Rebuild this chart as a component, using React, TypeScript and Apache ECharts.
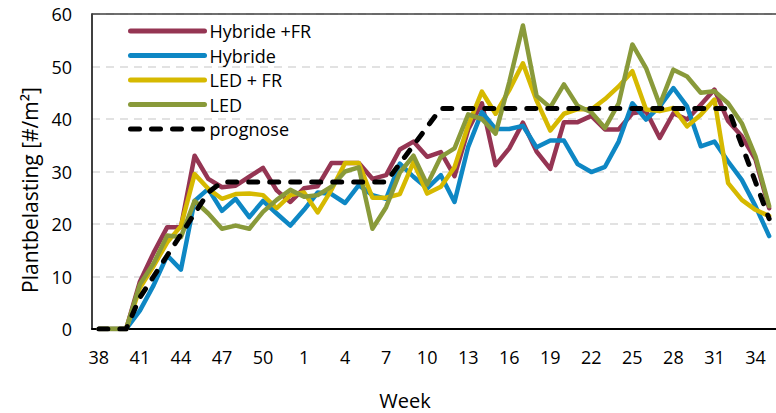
import React, { useEffect, useRef } from 'react';
import * as echarts from 'echarts';

const weeks = ['38','39','40','41','42','43','44','45','46','47','48','49','50','51','52',
  '1','2','3','4','5','6','7','8','9','10','11','12','13','14','15','16','17','18','19','20',
  '21','22','23','24','25','26','27','28','29','30','31','32','33','34','35'];

const hybrideFR = [0,0,0,9,14.5,19.4,19.4,33,28.6,27,27.3,29,30.7,26.4,24.2,26.8,27.2,31.6,31.6,31.6,
  28.6,29.3,34.2,35.7,32.8,33.7,29.1,38,43,31.2,34.4,39.3,33.8,30.5,39.4,39.4,40.6,38,38,41.1,
  41.5,36.4,41.1,39.9,42.7,45.6,39.6,36.7,32.3,23];

const hybride = [0,0,0,3.5,8.3,14,11.3,24.4,26.7,22.5,24.8,21.3,24.4,22,19.7,22.7,26,25.7,24,27.4,
  25.5,24.8,31.5,29,26.8,29.3,24.2,34.7,41.3,38.1,38.1,38.7,34.6,35.9,35.9,31.4,29.9,30.9,35.7,43,
  39.9,42.4,45.9,42.4,34.8,35.7,31.9,28.4,23.4,17.7];

const ledFR = [0,0,0,7.8,12,16.5,19.6,29.5,26.7,24.8,25.7,25.8,25.5,23,25.5,26,22.2,26.5,31.6,31.6,
  25,25,25.7,31.8,25.8,27.1,30.8,38.8,45.2,41,45.5,50.6,43.5,37.8,41,41.9,41.8,43.8,46.2,49.1,
  41.8,41.5,42.1,38.6,40.8,43.7,27.8,24.6,22.7,21.5];

const led = [0,0,0,8.5,12.5,17.8,17.5,24.4,22,19.1,19.7,19.1,22.3,24.6,26.5,25.2,25.5,27.1,30,30.8,
  19.1,23.2,29.8,33,27.5,32.8,34.4,40.9,40,37.2,47,57.8,44.4,42.2,46.6,42.5,41.3,38.3,43,54.2,
  49.7,42.7,49.4,48.1,45,45.3,43,39.2,32.9,23.4];

const prognose = [0,0,0,6,10,14,18,22,26,28,28,28,28,28,28,28,28,28,28,28,
  28,28,31.5,35,38.5,42,42,42,42,42,42,42,42,42,42,42,42,42,42,42,
  42,42,42,42,42,42,42,35,28,21];

const yTicks = [0, 10, 20, 30, 40, 50, 60];

const seriesNames = ['Hybride +FR', 'Hybride', 'LED + FR', 'LED', 'prognose'];

export default function App() {
  const ref = useRef<HTMLDivElement>(null);
  useEffect(() => {
    const chart = echarts.init(ref.current!, null, { renderer: 'svg' });
    const font = '"Open Sans", sans-serif';
    const mk = (name: string, data: number[], color: string, width: number, type: any = 'solid') => ({
      name,
      type: 'line',
      data,
      symbol: 'none',
      showSymbol: false,
      itemStyle: { color },
      lineStyle: { color, width, type, cap: 'round', join: 'round' },
      emphasis: { disabled: true },
    });
    chart.setOption({
      animation: false,
      grid: { left: 92, top: 14, width: 686, height: 315, containLabel: false },
      legend: {
        data: seriesNames,
        orient: 'vertical',
        left: 128,
        top: 22,
        padding: 0,
        itemWidth: 74,
        itemHeight: 18,
        itemGap: 6.5,
        itemStyle: { opacity: 0 },
        lineStyle: { width: 5, cap: 'round' },
        textStyle: { fontFamily: font, fontSize: 18, color: '#000', lineHeight: 18 },
      },
      xAxis: [
        {
          type: 'category',
          data: weeks,
          boundaryGap: true,
          axisLine: { show: true, lineStyle: { color: '#000', width: 2 } },
          axisTick: { show: false },
          axisLabel: { interval: 2, margin: 19, fontFamily: font, fontSize: 18, color: '#000' },
          splitLine: { show: false },
        },
        {
          type: 'category',
          data: weeks,
          position: 'top',
          axisLine: { show: true, lineStyle: { color: '#404040', width: 1.5 } },
          axisTick: { show: false },
          axisLabel: { show: false },
          splitLine: { show: false },
        },
      ],
      yAxis: {
        type: 'value',
        min: yTicks[0],
        max: yTicks[yTicks.length - 1],
        interval: 10,
        axisLine: { show: true, lineStyle: { color: '#000', width: 1.5 } },
        axisTick: { show: false },
        axisLabel: { margin: 20, fontFamily: font, fontSize: 18, color: '#000' },
        splitLine: { show: true, lineStyle: { color: '#d9d9d9', width: 1.5, type: [8, 6] } },
      },
      graphic: [
        {
          type: 'text',
          x: 405,
          y: 400,
          style: { text: 'Week', font: `20px ${font}`, fill: '#000', textAlign: 'center', textVerticalAlign: 'middle' },
        },
        {
          type: 'text',
          x: 30,
          y: 190,
          rotation: Math.PI / 2,
          style: { text: 'Plantbelasting [#/m²]', font: `21px ${font}`, fill: '#000', textAlign: 'center', textVerticalAlign: 'middle' },
        },
      ],
      series: [
        mk(seriesNames[0], hybrideFR, '#953553', 4.5),
        mk(seriesNames[1], hybride, '#0e87c4', 4.5),
        mk(seriesNames[2], ledFR, '#d6b900', 4.5),
        mk(seriesNames[3], led, '#899a3a', 4.5),
        mk(seriesNames[4], prognose, '#000000', 5, [9, 12]),
      ],
    });
    return () => chart.dispose();
  }, []);
  return <div ref={ref} style={{ position: 'absolute', left: 0, top: 0, width: 776, height: 413 }} />;
}
